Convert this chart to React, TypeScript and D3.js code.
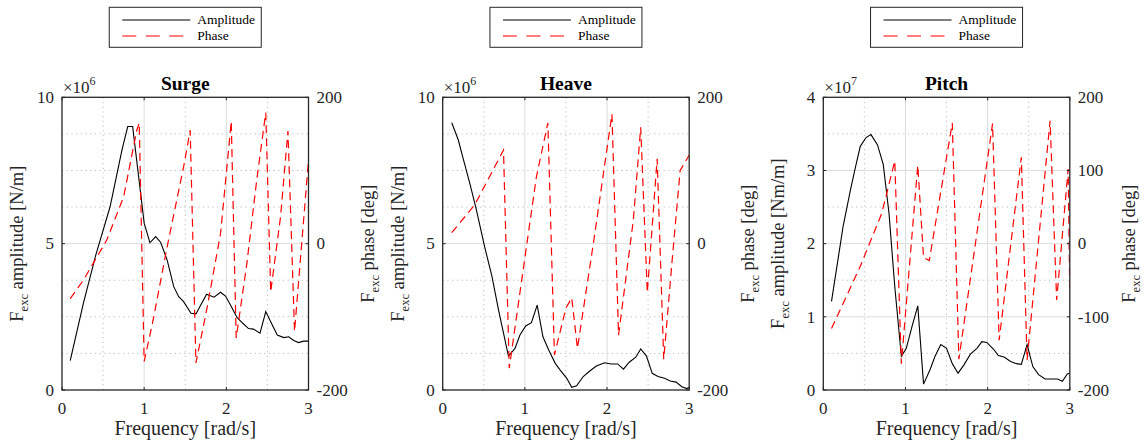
import * as d3 from "d3";

// ── Data (amplitudes in units of the axis multiplier) ─────────────
const surgeAmpFreq = [0.1, 0.26, 0.41, 0.585, 0.73, 0.8, 0.86, 1.0, 1.07, 1.14, 1.2, 1.28, 1.36, 1.42, 1.48, 1.57, 1.63, 1.76, 1.85, 1.93, 1.99, 2.06, 2.13, 2.2, 2.27, 2.33, 2.41, 2.48, 2.54, 2.62, 2.7, 2.76, 2.82, 2.88, 2.94, 3.0];
const surgeAmp = [1.0, 2.96, 4.6, 6.26, 8.2, 9.0, 9.0, 5.7, 5.03, 5.24, 5.05, 4.44, 3.53, 3.19, 3.02, 2.62, 2.6, 3.27, 3.17, 3.34, 3.21, 2.85, 2.48, 2.28, 2.1, 2.08, 1.94, 2.68, 2.33, 1.88, 1.79, 1.82, 1.69, 1.62, 1.67, 1.67];
const surgePhaseFreq = [0.1, 0.26, 0.545, 0.75, 0.91, 0.94, 1.0, 1.11, 1.28, 1.48, 1.56, 1.63, 1.76, 1.93, 2.06, 2.12, 2.25, 2.37, 2.48, 2.54, 2.66, 2.75, 2.83, 3.0];
const surgePhase = [-75, -50, 5, 64, 155, 165, -161, -104, -4, 105, 155, -163, -91, 14, 167, -129, -27, 87, 179, -66, 37, 154, -120, 114];

const heaveAmpFreq = [0.11, 0.19, 0.25, 0.33, 0.41, 0.51, 0.6, 0.68, 0.74, 0.8, 0.88, 0.94, 1.01, 1.08, 1.15, 1.22, 1.29, 1.37, 1.43, 1.51, 1.57, 1.63, 1.71, 1.79, 1.87, 1.97, 2.05, 2.13, 2.2, 2.27, 2.35, 2.41, 2.48, 2.55, 2.62, 2.7, 2.77, 2.84, 2.91, 2.97, 3.0];
const heaveAmp = [9.13, 8.54, 7.9, 7.06, 6.15, 4.9, 3.87, 2.73, 1.94, 1.16, 1.42, 1.88, 2.19, 2.3, 2.9, 1.82, 1.37, 0.91, 0.68, 0.4, 0.09, 0.14, 0.46, 0.65, 0.82, 0.93, 0.89, 0.89, 0.71, 0.95, 1.12, 1.4, 1.16, 0.57, 0.46, 0.4, 0.31, 0.27, 0.11, 0.05, 0.09];
const heavePhaseFreq = [0.11, 0.39, 0.74, 0.81, 0.95, 1.14, 1.28, 1.36, 1.5, 1.57, 1.64, 1.84, 2.06, 2.14, 2.32, 2.41, 2.49, 2.61, 2.69, 2.8, 2.89, 3.0];
const heavePhase = [15, 53, 128, -170, -59, 91, 165, -152, -88, -74, -143, 5, 177, -125, 32, 159, -67, 116, -158, -13, 100, 121];

const pitchAmpFreq = [0.1, 0.24, 0.33, 0.39, 0.45, 0.52, 0.58, 0.66, 0.73, 0.8, 0.87, 0.95, 1.01, 1.08, 1.15, 1.22, 1.3, 1.36, 1.43, 1.5, 1.57, 1.64, 1.71, 1.79, 1.87, 1.93, 1.99, 2.07, 2.13, 2.2, 2.28, 2.35, 2.41, 2.48, 2.55, 2.62, 2.7, 2.77, 2.85, 2.91, 2.97, 3.0];
const pitchAmp = [1.21, 2.23, 2.73, 3.04, 3.33, 3.45, 3.49, 3.35, 3.08, 2.41, 1.41, 0.46, 0.57, 0.87, 1.15, 0.08, 0.28, 0.46, 0.62, 0.57, 0.36, 0.23, 0.34, 0.49, 0.57, 0.66, 0.65, 0.56, 0.47, 0.45, 0.39, 0.36, 0.35, 0.62, 0.32, 0.21, 0.15, 0.15, 0.15, 0.12, 0.22, 0.23];
const pitchPhaseFreq = [0.1, 0.45, 0.71, 0.87, 0.95, 1.15, 1.22, 1.29, 1.57, 1.65, 2.06, 2.14, 2.41, 2.48, 2.76, 2.84, 2.98, 3.0];
const pitchPhase = [-116, -31, 41, 113, -164, 107, -19, -23, 165, -158, 164, -132, 118, -159, 168, -77, 102, -68];

const xTicks = [0, 1, 2, 3];
const xMinor = [0.5, 1.5, 2.5];
const legendLabels = ["Amplitude", "Phase"];

// ── Layout ───────────────────────────────────────────────────────
const W = 1146;
const H = 448;
const TOP = 97.3;
const BOTTOM = 390;
const PW = 246.5;
const FONT = "'Liberation Serif', 'Times New Roman', Times, serif";
const RED = "#ff0000";
const INK = "#262626";

const panels = [
  { left: 62, title: "Surge", exp: "6", yMax: 10, yTicks: [0, 5, 10], yMinor: [1.25, 2.5, 3.75, 6.25, 7.5, 8.75], pTicks: [-200, 0, 200], unit: "[N/m]", ampF: surgeAmpFreq, amp: surgeAmp, phF: surgePhaseFreq, ph: surgePhase },
  { left: 442.7, title: "Heave", exp: "6", yMax: 10, yTicks: [0, 5, 10], yMinor: [1.25, 2.5, 3.75, 6.25, 7.5, 8.75], pTicks: [-200, 0, 200], unit: "[N/m]", ampF: heaveAmpFreq, amp: heaveAmp, phF: heavePhaseFreq, ph: heavePhase },
  { left: 823.3, title: "Pitch", exp: "7", yMax: 4, yTicks: [0, 1, 2, 3, 4], yMinor: [0.5, 1.5, 2.5, 3.5], pTicks: [-200, -100, 0, 100, 200], unit: "[Nm/m]", ampF: pitchAmpFreq, amp: pitchAmp, phF: pitchPhaseFreq, ph: pitchPhase },
];

function Panel({ p, i }: { p: any; i: number }) {
  const x = d3.scaleLinear().domain([0, 3]).range([p.left, p.left + PW]);
  const yA = d3.scaleLinear().domain([0, p.yMax]).range([BOTTOM, TOP]);
  const yP = d3.scaleLinear().domain([-200, 200]).range([BOTTOM, TOP]);
  const right = p.left + PW;
  const cx = p.left + PW / 2;
  const cy = (TOP + BOTTOM) / 2;

  const ampLine = d3.line<number>().x((_, k) => x(p.ampF[k])).y(d => yA(d));
  const phLine = d3.line<number>().x((_, k) => x(p.phF[k])).y(d => yP(d));

  return (
    <g fontFamily={FONT}>
      <clipPath id={`clip${i}`}>
        <rect x={p.left} y={TOP} width={PW} height={BOTTOM - TOP} />
      </clipPath>

      {/* grid: dotted minor, solid major */}
      {xMinor.map(v => (
        <line key={"xm" + v} x1={x(v)} x2={x(v)} y1={TOP} y2={BOTTOM}
          stroke="#bdbdbd" strokeWidth={1} strokeDasharray="1.2,3.5" />
      ))}
      {p.yMinor.map((v: number) => (
        <line key={"ym" + v} x1={p.left} x2={right} y1={yA(v)} y2={yA(v)}
          stroke="#bdbdbd" strokeWidth={1} strokeDasharray="1.2,3.5" />
      ))}
      {xTicks.slice(1, -1).map(v => (
        <line key={"xg" + v} x1={x(v)} x2={x(v)} y1={TOP} y2={BOTTOM}
          stroke="#dcdcdc" strokeWidth={1} />
      ))}
      {p.yTicks.slice(1, -1).map((v: number) => (
        <line key={"yg" + v} x1={p.left} x2={right} y1={yA(v)} y2={yA(v)}
          stroke="#dcdcdc" strokeWidth={1} />
      ))}

      {/* series */}
      <g clipPath={`url(#clip${i})`}>
        <path d={ampLine(p.amp) || ""} fill="none" stroke="#000" strokeWidth={1.1} />
        <path d={phLine(p.ph) || ""} fill="none" stroke={RED} strokeWidth={1.2}
          strokeDasharray="8,5" />
      </g>

      {/* box */}
      <rect x={p.left} y={TOP} width={PW} height={BOTTOM - TOP}
        fill="none" stroke={INK} strokeWidth={1.3} />

      {/* ticks + labels */}
      {xTicks.map(v => (
        <g key={"xt" + v}>
          <line x1={x(v)} x2={x(v)} y1={BOTTOM} y2={BOTTOM - 3} stroke={INK} />
          <line x1={x(v)} x2={x(v)} y1={TOP} y2={TOP + 3} stroke={INK} />
          <text x={x(v)} y={414} textAnchor="middle" fontSize={17} fill={INK}>{v}</text>
        </g>
      ))}
      {p.yTicks.map((v: number) => (
        <g key={"yt" + v}>
          <line x1={p.left} x2={p.left + 3} y1={yA(v)} y2={yA(v)} stroke={INK} />
          <text x={p.left - 8} y={yA(v)} dy="0.34em" textAnchor="end" fontSize={17} fill={INK}>{v}</text>
        </g>
      ))}
      {p.pTicks.map((v: number) => (
        <g key={"pt" + v}>
          <line x1={right} x2={right - 3} y1={yP(v)} y2={yP(v)} stroke={INK} />
          <text x={right + 8} y={yP(v)} dy="0.34em" fontSize={17} fill={INK}>{v}</text>
        </g>
      ))}

      {/* multiplier */}
      <text x={p.left + 1} y={92.7} fontSize={17} fill={INK}>
        ×10<tspan dy={-8} fontSize={12}>{p.exp}</tspan>
      </text>

      {/* title */}
      <text x={cx} y={89.5} textAnchor="middle" fontSize={19.5} fontWeight="bold" fill="#000">{p.title}</text>

      {/* axis labels */}
      <text x={cx} y={435} textAnchor="middle" fontSize={20} fill={INK}>Frequency [rad/s]</text>
      <text transform={`translate(${p.left - 39},${cy}) rotate(-90)`} textAnchor="middle"
        fontSize={18.5} fill={INK} style={{ whiteSpace: "pre" }}>
        F<tspan dy={5} fontSize={12.5}>exc</tspan><tspan dy={-5}>{` amplitude ${p.unit}`}</tspan>
      </text>
      <text transform={`translate(${right + 65},${cy}) rotate(-90)`} textAnchor="middle"
        fontSize={18.5} fill={INK} style={{ whiteSpace: "pre" }}>
        F<tspan dy={5} fontSize={12.5}>exc</tspan><tspan dy={-5}>{" phase [deg]"}</tspan>
      </text>

      {/* legend */}
      <g transform={`translate(${cx - 76},7.3)`}>
        <rect x={0} y={0} width={152} height={40} fill="#fff" stroke={INK} strokeWidth={1} />
        {legendLabels.map((l, k) => (
          <g key={l} transform={`translate(0,${12.7 + k * 16})`}>
            <line x1={13} x2={81} y1={0} y2={0}
              stroke={k === 0 ? "#000" : RED} strokeWidth={1.1}
              strokeDasharray={k === 0 ? undefined : "14,9.5"} />
            <text x={88} y={0} dy="0.33em" fontSize={13.5} fill="#000">{l}</text>
          </g>
        ))}
      </g>
    </g>
  );
}

export default function App() {
  return (
    <svg width={W} height={H} viewBox={`0 0 ${W} ${H}`}
      style={{ position: "absolute", left: 0, top: 0, background: "#fff", display: "block" }}>
      <rect width={W} height={H} fill="#fff" />
      {panels.map((p, i) => <Panel key={p.title} p={p} i={i} />)}
    </svg>
  );
}
